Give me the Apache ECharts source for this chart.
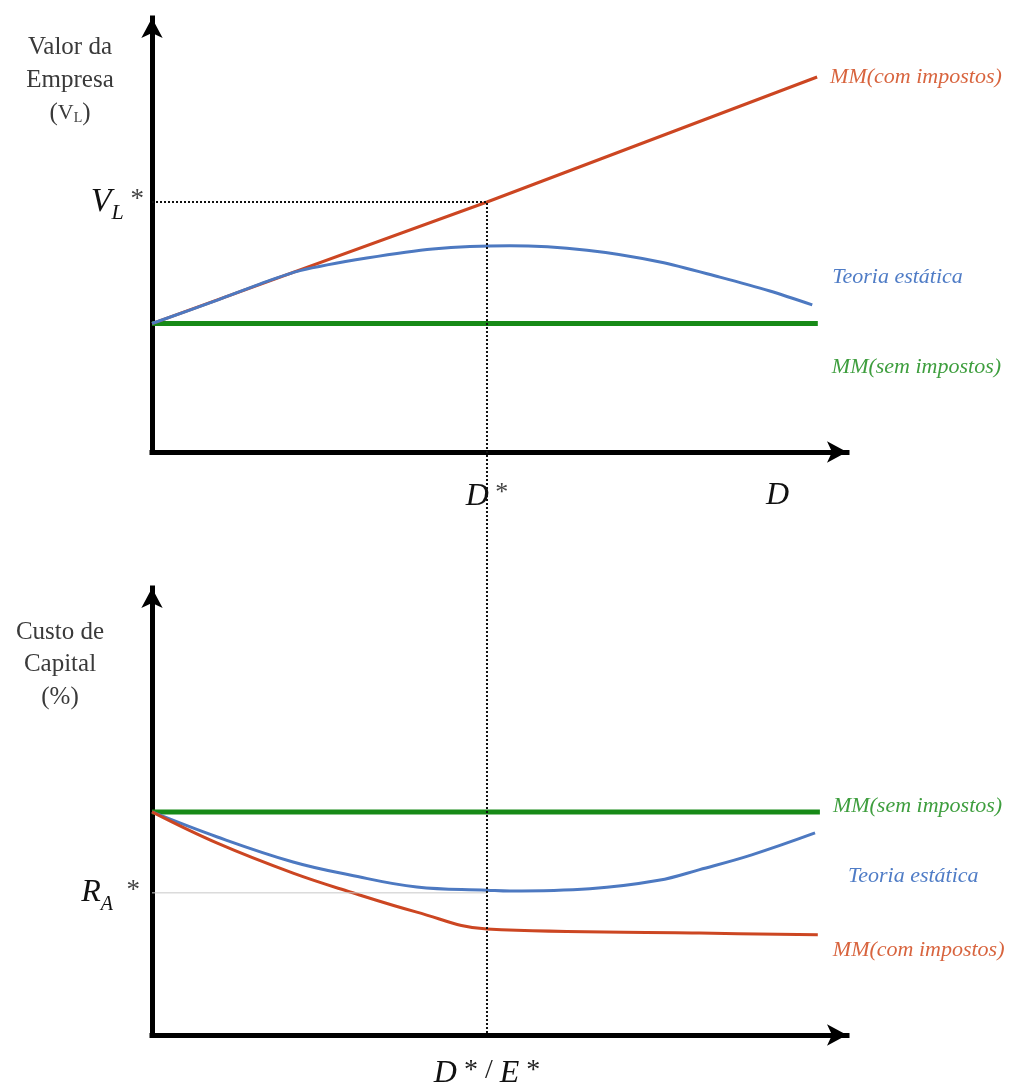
<!DOCTYPE html>
<html>
<head>
<meta charset="utf-8">
<title>Valor da empresa e custo de capital</title>
<script src="https://cdn.jsdelivr.net/npm/echarts@6/dist/echarts.min.js"></script>
<style>
  html, body { margin: 0; padding: 0; background: #fff; }
  #chart { width: 1020px; height: 1091px; }
</style>
</head>
<body>
<div id="chart"></div>
<script>
// pontos [D, valor] (eixos de 0 a 100)
const dStar = 48.2
const dMark = 90
const vlStar = 57.6
const raStar = 31.8

// gráfico de cima: valor da empresa
const valorSemImpostos = [[0, 29.6], [95.8, 29.6]]
const valorComImpostos = [[0, 29.6], [48.2, 57.6], [95.7, 86.4]]
const valorTeoria = [[0, 29.6], [9.4, 35.0], [15.5, 38.7], [21.3, 41.8], [30.9, 44.7], [40.4, 46.8],
  [51.5, 47.5], [62.6, 46.5], [73.1, 43.8], [81.7, 40.3], [88.9, 37.1], [95.0, 33.9]]
// linha pontilhada: V_L* até D* e descendo até o eixo de baixo
const guiaOtimo = [[0, vlStar], [dStar, vlStar], [dStar, -134.3]]

// gráfico de baixo: custo de capital
const custoSemImpostos = [[0, 49.9], [96.1, 49.9]]
const custoComImpostos = [[0, 49.9], [9.4, 42.9], [20.3, 36.2], [28.5, 32.0], [38.1, 27.5],
  [48.2, 23.7], [78.8, 22.8], [95.8, 22.4]]
const custoTeoria = [[0, 49.9], [9.4, 44.3], [20.3, 38.7], [28.5, 35.8], [38.1, 33.1], [48.2, 32.4],
  [51.5, 32.2], [63.0, 32.7], [72.9, 34.6], [78.8, 37.0], [86.3, 40.3], [95.4, 45.2]]
const guiaRa = [[0, raStar], [dStar, raStar]]

const SERIF = "'Liberation Serif', 'DejaVu Serif', serif"
const RED = '#cc4622'
const BLUE = '#4d79c1'
const GREEN = '#178a17'

const chart = echarts.init(document.getElementById('chart'), null, { renderer: 'canvas' })

const axisLine = {
  show: true,
  symbol: ['none', 'arrow'],
  symbolSize: [16, 20],
  lineStyle: { color: '#000', width: 5, cap: 'square' },
}

const baseAxis = (gridIndex) => ({
  gridIndex,
  type: 'value',
  min: 0,
  max: 100,
  axisLine,
  axisTick: { show: false },
  splitLine: { show: false },
})

const lineSeries = (name, data, gridIndex, color, width, label, extra) => Object.assign({
  name,
  type: 'line',
  xAxisIndex: gridIndex,
  yAxisIndex: gridIndex,
  data,
  symbol: 'none',
  silent: true,
  lineStyle: { color, width },
  endLabel: label ? Object.assign({
    show: true,
    formatter: name,
    fontFamily: SERIF,
    fontStyle: 'italic',
    fontSize: 22,
  }, label) : { show: false },
}, extra || {})

chart.setOption({
  animation: false,
  backgroundColor: '#fff',
  grid: [
    { left: 152, right: 173, top: 18, bottom: 639 },
    { left: 152, right: 173, top: 588, bottom: 56 },
  ],
  xAxis: [
    Object.assign(baseAxis(0), {
      axisLabel: {
        customValues: [dStar, dMark],
        margin: 28,
        formatter: (v) => (v === dStar ? '{i|D}{s| *}' : '{i|D}'),
        rich: {
          i: { fontFamily: SERIF, fontStyle: 'italic', fontSize: 32, color: '#111' },
          s: { fontFamily: SERIF, fontSize: 26, color: '#444', padding: [0, 0, 8, 0] },
        },
      },
    }),
    Object.assign(baseAxis(1), {
      axisLabel: {
        customValues: [dStar],
        margin: 22,
        formatter: () => '{i|D}{s| * / }{i|E}{s| *}',
        rich: {
          i: { fontFamily: SERIF, fontStyle: 'italic', fontSize: 32, color: '#111' },
          s: { fontFamily: SERIF, fontSize: 28, color: '#222', padding: [0, 0, 6, 0] },
        },
      },
    }),
  ],
  yAxis: [
    Object.assign(baseAxis(0), {
      axisLabel: {
        customValues: [vlStar],
        margin: 8,
        formatter: () => '{v|V}{sub|L}{st| *}',
        rich: {
          v: { fontFamily: SERIF, fontStyle: 'italic', fontSize: 34, color: '#111' },
          sub: { fontFamily: SERIF, fontStyle: 'italic', fontSize: 22, color: '#111', padding: [22, 0, 0, 0] },
          st: { fontFamily: SERIF, fontSize: 27, color: '#444', padding: [0, 0, 4, 0] },
        },
      },
    }),
    Object.assign(baseAxis(1), {
      axisLabel: {
        customValues: [raStar],
        margin: 12,
        formatter: () => '{v|R}{sub|A}{st|  *}',
        rich: {
          v: { fontFamily: SERIF, fontStyle: 'italic', fontSize: 32, color: '#111' },
          sub: { fontFamily: SERIF, fontStyle: 'italic', fontSize: 20, color: '#111', padding: [24, 0, 0, 0] },
          st: { fontFamily: SERIF, fontSize: 27, color: '#444', padding: [0, 0, 4, 0] },
        },
      },
    }),
  ],
  graphic: [
    {
      type: 'text',
      x: 70,
      y: 31,
      style: {
        text: 'Valor da\nEmpresa\n({n|V}{sub|L})',
        textAlign: 'center',
        fontFamily: SERIF,
        fontSize: 25,
        lineHeight: 33,
        fill: '#3a3a3a',
        rich: {
          n: { fontFamily: SERIF, fontSize: 22, fill: '#3a3a3a' },
          sub: { fontFamily: SERIF, fontSize: 14, fill: '#3a3a3a', padding: [10, 0, 0, 0] },
        },
      },
    },
    {
      type: 'text',
      x: 60,
      y: 616,
      style: {
        text: 'Custo de\nCapital\n(%)',
        textAlign: 'center',
        fontFamily: SERIF,
        fontSize: 25,
        lineHeight: 32.5,
        fill: '#3a3a3a',
      },
    },
  ],
  series: [
    lineSeries('MM(sem impostos)', valorSemImpostos, 0, GREEN, 5,
      { color: '#3e9e3e', distance: 14, verticalAlign: 'top', lineHeight: 88 }),
    lineSeries('MM(com impostos)', valorComImpostos, 0, RED, 3,
      { color: '#d8643e', distance: 13 }),
    lineSeries('Teoria estática', valorTeoria, 0, BLUE, 3,
      { color: '#4f7cc6', distance: 20, verticalAlign: 'bottom', lineHeight: 56 }, { smooth: 0.3 }),
    lineSeries('guia-otimo', guiaOtimo, 0, '#111', 2, null,
      { clip: false, z: 5, lineStyle: { color: '#111', width: 2, type: [2, 2] } }),

    lineSeries('MM(sem impostos)', custoSemImpostos, 1, GREEN, 5,
      { color: '#3e9e3e', distance: 13, verticalAlign: 'bottom', lineHeight: 12 }),
    lineSeries('Teoria estática', custoTeoria, 1, BLUE, 3,
      { color: '#4f7cc6', distance: 33, verticalAlign: 'top', lineHeight: 86 }, { smooth: 0.4 }),
    lineSeries('MM(com impostos)', custoComImpostos, 1, RED, 3,
      { color: '#d8643e', distance: 15, verticalAlign: 'top', lineHeight: 30 }, { smooth: 0.4 }),
    lineSeries('guia-ra', guiaRa, 1, '#c8c8c8', 1, null),
  ],
})

window.addEventListener('resize', () => {
  chart.resize()
})
</script>
</body>
</html>
